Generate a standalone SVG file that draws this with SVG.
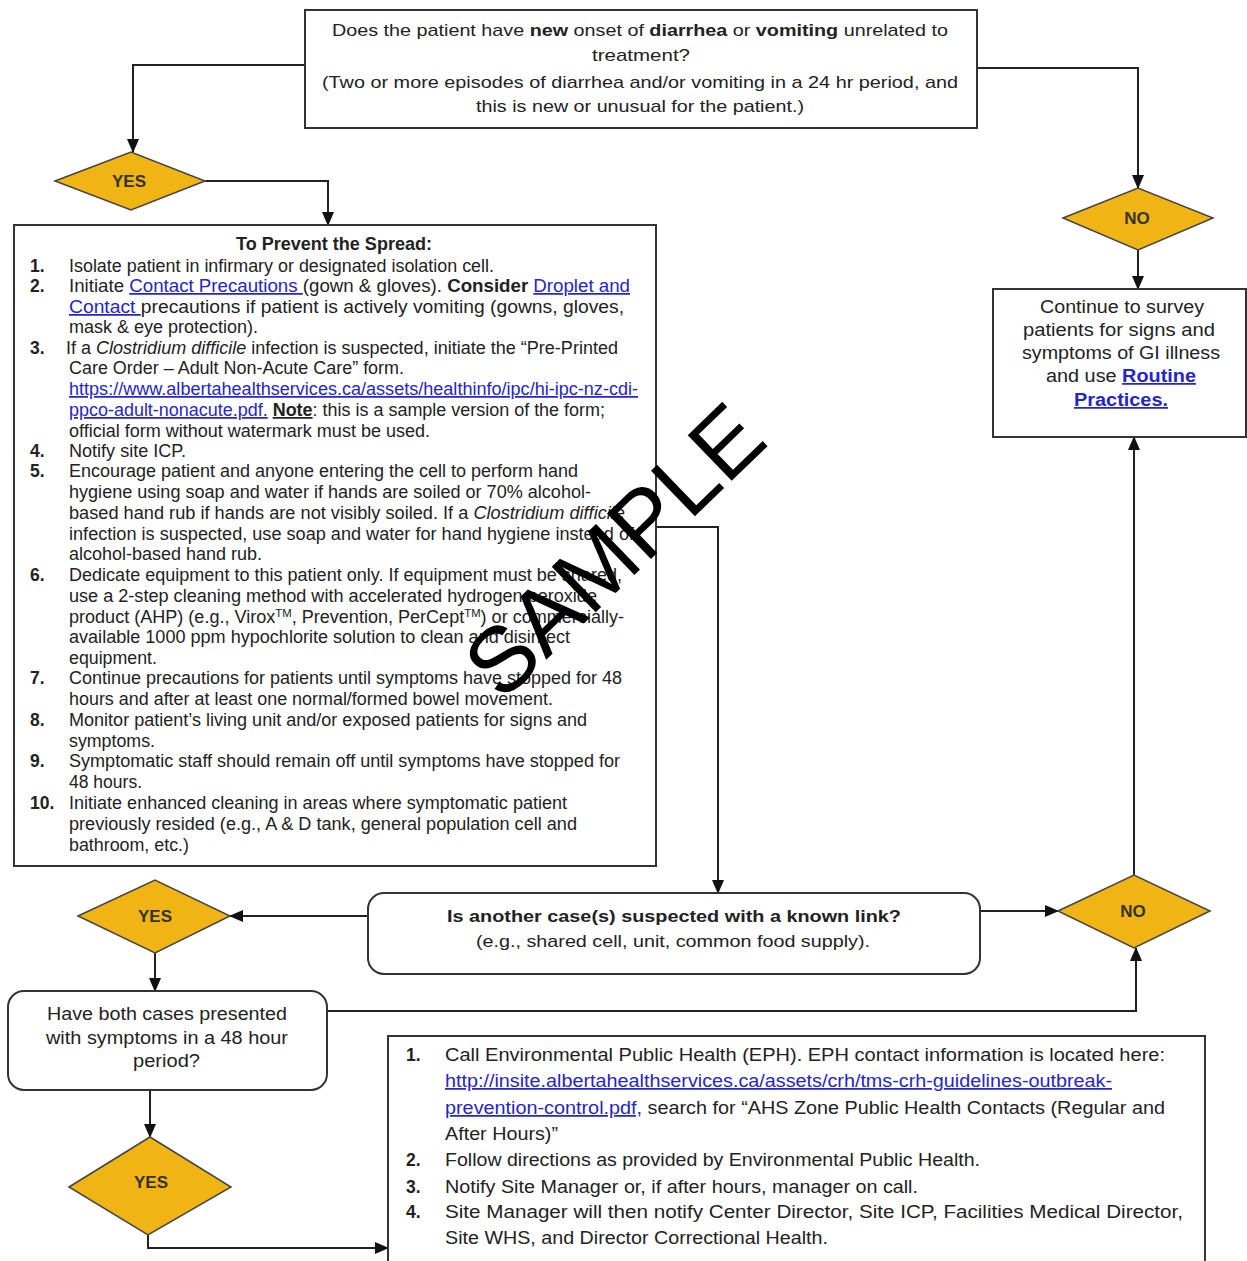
<svg xmlns="http://www.w3.org/2000/svg" width="1247" height="1261" viewBox="0 0 1247 1261">
<defs>
<marker id="ah" markerUnits="userSpaceOnUse" markerWidth="14" markerHeight="14" viewBox="0 0 14 14" refX="13" refY="7" orient="auto">
<path d="M0,1 L14,7 L0,13 Z" fill="#111"/>
</marker>
<style>
text{font-family:"Liberation Sans",Arial,sans-serif;fill:#222;}
.box{fill:#fff;stroke:#333;stroke-width:2;}
.dia{fill:#F0B415;stroke:#444;stroke-width:1.5;}
.dl{font-size:17px;font-weight:bold;fill:#333;text-anchor:middle;}
.t{font-size:17.5px;}
.s{font-size:17px;}
.b{font-weight:bold;}
.i{font-style:italic;}
.lk{fill:#2525c8;text-decoration:underline;}
.c{fill:none;stroke:#222;stroke-width:2;}
.wm{font-size:92px;fill:#000;}
</style>
</defs>

<g id="connectors">
<polyline class="c" points="305,65 133,65 133,152" marker-end="url(#ah)"/>
<polyline class="c" points="205,181 328,181 328,225" marker-end="url(#ah)"/>
<polyline class="c" points="977,68 1138,68 1138,188" marker-end="url(#ah)"/>
<polyline class="c" points="1138,250 1138,289" marker-end="url(#ah)"/>
<polyline class="c" points="656,527 718,527 718,893" marker-end="url(#ah)"/>
<polyline class="c" points="368,916 230,916" marker-end="url(#ah)"/>
<polyline class="c" points="980,911 1058,911" marker-end="url(#ah)"/>
<polyline class="c" points="1134,875 1134,437" marker-end="url(#ah)"/>
<polyline class="c" points="155,953 155,991" marker-end="url(#ah)"/>
<polyline class="c" points="327,1011 1136,1011 1136,948" marker-end="url(#ah)"/>
<polyline class="c" points="150,1090 150,1137" marker-end="url(#ah)"/>
<polyline class="c" points="148,1235 148,1248 388,1248" marker-end="url(#ah)"/>
</g>

<g id="q1">
<rect class="box" x="305" y="10" width="672" height="118"/>
<text class="s" x="332" y="36" textLength="616" lengthAdjust="spacingAndGlyphs">Does the patient have <tspan class="b">new</tspan> onset of <tspan class="b">diarrhea</tspan> or <tspan class="b">vomiting</tspan> unrelated to</text>
<text class="s" x="592" y="61" textLength="98" lengthAdjust="spacingAndGlyphs">treatment?</text>
<text class="s" x="322" y="88" textLength="636" lengthAdjust="spacingAndGlyphs">(Two or more episodes of diarrhea and/or vomiting in a 24 hr period, and</text>
<text class="s" x="476" y="112" textLength="328" lengthAdjust="spacingAndGlyphs">this is new or unusual for the patient.)</text>
</g>

<g id="yes1">
<polygon class="dia" points="55,181 131,152 205,181 131,210"/>
<text class="dl" x="129" y="187">YES</text>
</g>

<g id="no1">
<polygon class="dia" points="1063,218 1138,188 1213,218 1138,250"/>
<text class="dl" x="1137" y="224">NO</text>
</g>

<g id="prevent">
<rect class="box" x="14" y="225" width="642" height="641" stroke-width="1.5"/>
<text class="t b" x="236" y="250" textLength="196" lengthAdjust="spacingAndGlyphs">To Prevent the Spread:</text>
<g class="t">
<text x="30" y="272" class="b">1.</text>
<text x="69" y="272" textLength="425" lengthAdjust="spacingAndGlyphs">Isolate patient in infirmary or designated isolation cell.</text>
<text x="30" y="292" class="b">2.</text>
<text x="69" y="292" textLength="561" lengthAdjust="spacingAndGlyphs">Initiate <tspan class="lk">Contact Precautions </tspan>(gown &amp; gloves). <tspan class="b">Consider </tspan><tspan class="lk">Droplet and</tspan></text>
<text x="69" y="313" textLength="555" lengthAdjust="spacingAndGlyphs"><tspan class="lk">Contact </tspan>precautions if patient is actively vomiting (gowns, gloves,</text>
<text x="69" y="333" textLength="189" lengthAdjust="spacingAndGlyphs">mask &amp; eye protection).</text>
<text x="30" y="354" class="b">3.</text>
<text x="66" y="354" textLength="552" lengthAdjust="spacingAndGlyphs">If a <tspan class="i">Clostridium difficile</tspan> infection is suspected, initiate the “Pre-Printed</text>
<text x="69" y="374" textLength="335" lengthAdjust="spacingAndGlyphs">Care Order – Adult Non-Acute Care” form.</text>
<text x="69" y="395" textLength="569" lengthAdjust="spacingAndGlyphs" class="lk">https://www.albertahealthservices.ca/assets/healthinfo/ipc/hi-ipc-nz-cdi-</text>
<text x="69" y="416" textLength="536" lengthAdjust="spacingAndGlyphs"><tspan class="lk">ppco-adult-nonacute.pdf.</tspan> <tspan class="b" text-decoration="underline">Note</tspan>: this is a sample version of the form;</text>
<text x="69" y="437" textLength="361" lengthAdjust="spacingAndGlyphs">official form without watermark must be used.</text>
<text x="30" y="457" class="b">4.</text>
<text x="69" y="457" textLength="117" lengthAdjust="spacingAndGlyphs">Notify site ICP.</text>
<text x="30" y="477" class="b">5.</text>
<text x="69" y="477" textLength="509" lengthAdjust="spacingAndGlyphs">Encourage patient and anyone entering the cell to perform hand</text>
<text x="69" y="498" textLength="522" lengthAdjust="spacingAndGlyphs">hygiene using soap and water if hands are soiled or 70% alcohol-</text>
<text x="69" y="519" textLength="556" lengthAdjust="spacingAndGlyphs">based hand rub if hands are not visibly soiled.  If a <tspan class="i">Clostridium difficile</tspan></text>
<text x="69" y="540" textLength="565" lengthAdjust="spacingAndGlyphs">infection is suspected, use soap and water for hand hygiene instead of</text>
<text x="69" y="560" textLength="193" lengthAdjust="spacingAndGlyphs">alcohol-based hand rub.</text>
<text x="30" y="581" class="b">6.</text>
<text x="69" y="581" textLength="553" lengthAdjust="spacingAndGlyphs">Dedicate equipment to this patient only. If equipment must be shared,</text>
<text x="69" y="602" textLength="528" lengthAdjust="spacingAndGlyphs">use a 2-step cleaning method with accelerated hydrogen peroxide</text>
<text x="69" y="623" textLength="555" lengthAdjust="spacingAndGlyphs">product (AHP) (e.g., Virox<tspan font-size="11" dy="-6">TM</tspan><tspan dy="6">, Prevention, PerCept</tspan><tspan font-size="11" dy="-6">TM</tspan><tspan dy="6">) or commercially-</tspan></text>
<text x="69" y="643" textLength="501" lengthAdjust="spacingAndGlyphs">available 1000 ppm hypochlorite solution to clean and disinfect</text>
<text x="69" y="664" textLength="88" lengthAdjust="spacingAndGlyphs">equipment.</text>
<text x="30" y="684" class="b">7.</text>
<text x="69" y="684" textLength="553" lengthAdjust="spacingAndGlyphs">Continue precautions for patients until symptoms have stopped for 48</text>
<text x="69" y="705" textLength="484" lengthAdjust="spacingAndGlyphs">hours and after at least one normal/formed bowel movement.</text>
<text x="30" y="726" class="b">8.</text>
<text x="69" y="726" textLength="518" lengthAdjust="spacingAndGlyphs">Monitor patient’s living unit and/or exposed patients for signs and</text>
<text x="69" y="747" textLength="86" lengthAdjust="spacingAndGlyphs">symptoms.</text>
<text x="30" y="767" class="b">9.</text>
<text x="69" y="767" textLength="551" lengthAdjust="spacingAndGlyphs">Symptomatic staff should remain off until symptoms have stopped for</text>
<text x="69" y="788" textLength="73" lengthAdjust="spacingAndGlyphs">48 hours.</text>
<text x="30" y="809" class="b">10.</text>
<text x="69" y="809" textLength="498" lengthAdjust="spacingAndGlyphs">Initiate enhanced cleaning in areas where symptomatic patient</text>
<text x="69" y="830" textLength="508" lengthAdjust="spacingAndGlyphs">previously resided (e.g., A &amp; D tank, general population cell and</text>
<text x="69" y="851" textLength="120" lengthAdjust="spacingAndGlyphs">bathroom, etc.)</text>
</g>
</g>

<g id="survey">
<rect class="box" x="993" y="289" width="253" height="148" stroke-width="1.5"/>
<text class="t" x="1040" y="313" textLength="164" lengthAdjust="spacingAndGlyphs">Continue to survey</text>
<text class="t" x="1023" y="336" textLength="192" lengthAdjust="spacingAndGlyphs">patients for signs and</text>
<text class="t" x="1022" y="359" textLength="198" lengthAdjust="spacingAndGlyphs">symptoms of GI illness</text>
<text class="t" x="1046" y="382" textLength="150" lengthAdjust="spacingAndGlyphs">and use <tspan class="lk b">Routine</tspan></text>
<text class="t lk b" x="1074" y="406" textLength="94" lengthAdjust="spacingAndGlyphs">Practices.</text>
</g>

<g id="q2">
<rect class="box" x="368" y="893" width="612" height="81" rx="16" stroke-width="1.5"/>
<text class="s b" x="447" y="922" textLength="454" lengthAdjust="spacingAndGlyphs">Is another case(s) suspected with a known link?</text>
<text class="s" x="476" y="947" textLength="394" lengthAdjust="spacingAndGlyphs">(e.g., shared cell, unit, common food supply).</text>
</g>

<g id="yes2">
<polygon class="dia" points="78,916 155,880 230,916 155,953"/>
<text class="dl" x="155" y="922">YES</text>
</g>

<g id="no2">
<polygon class="dia" points="1058,911 1134,875 1210,911 1134,948"/>
<text class="dl" x="1133" y="917">NO</text>
</g>

<g id="q3">
<rect class="box" x="8" y="991" width="319" height="99" rx="16" stroke-width="1.5"/>
<text class="t" x="47" y="1020" textLength="240" lengthAdjust="spacingAndGlyphs">Have both cases presented</text>
<text class="t" x="46" y="1044" textLength="242" lengthAdjust="spacingAndGlyphs">with symptoms in a 48 hour</text>
<text class="t" x="133" y="1067" textLength="67" lengthAdjust="spacingAndGlyphs">period?</text>
</g>

<g id="yes3">
<polygon class="dia" points="69,1187 150,1137 231,1187 148,1235"/>
<text class="dl" x="151" y="1188">YES</text>
</g>

<g id="eph">
<rect class="box" x="388" y="1036" width="817" height="240" stroke-width="1.5"/>
<g class="t">
<text x="406" y="1061" class="b">1.</text>
<text x="445" y="1061" textLength="720" lengthAdjust="spacingAndGlyphs">Call Environmental Public Health (EPH). EPH contact information is located here:</text>
<text x="445" y="1087" textLength="667" lengthAdjust="spacingAndGlyphs" class="lk">http://insite.albertahealthservices.ca/assets/crh/tms-crh-guidelines-outbreak-</text>
<text x="445" y="1114" textLength="720" lengthAdjust="spacingAndGlyphs"><tspan class="lk">prevention-control.pdf,</tspan> search for “AHS Zone Public Health Contacts (Regular and</text>
<text x="445" y="1140" textLength="113" lengthAdjust="spacingAndGlyphs">After Hours)”</text>
<text x="406" y="1166" class="b">2.</text>
<text x="445" y="1166" textLength="535" lengthAdjust="spacingAndGlyphs">Follow directions as provided by Environmental Public Health.</text>
<text x="406" y="1193" class="b">3.</text>
<text x="445" y="1193" textLength="473" lengthAdjust="spacingAndGlyphs">Notify Site Manager or, if after hours, manager on call.</text>
<text x="406" y="1218" class="b">4.</text>
<text x="445" y="1218" textLength="738" lengthAdjust="spacingAndGlyphs">Site Manager will then notify Center Director, Site ICP, Facilities Medical Director,</text>
<text x="445" y="1244" textLength="383" lengthAdjust="spacingAndGlyphs">Site WHS, and Director Correctional Health.</text>
</g>
</g>

<text class="wm" x="614" y="550" text-anchor="middle" dominant-baseline="central" transform="rotate(-44 614 550)">SAMPLE</text>
</svg>
